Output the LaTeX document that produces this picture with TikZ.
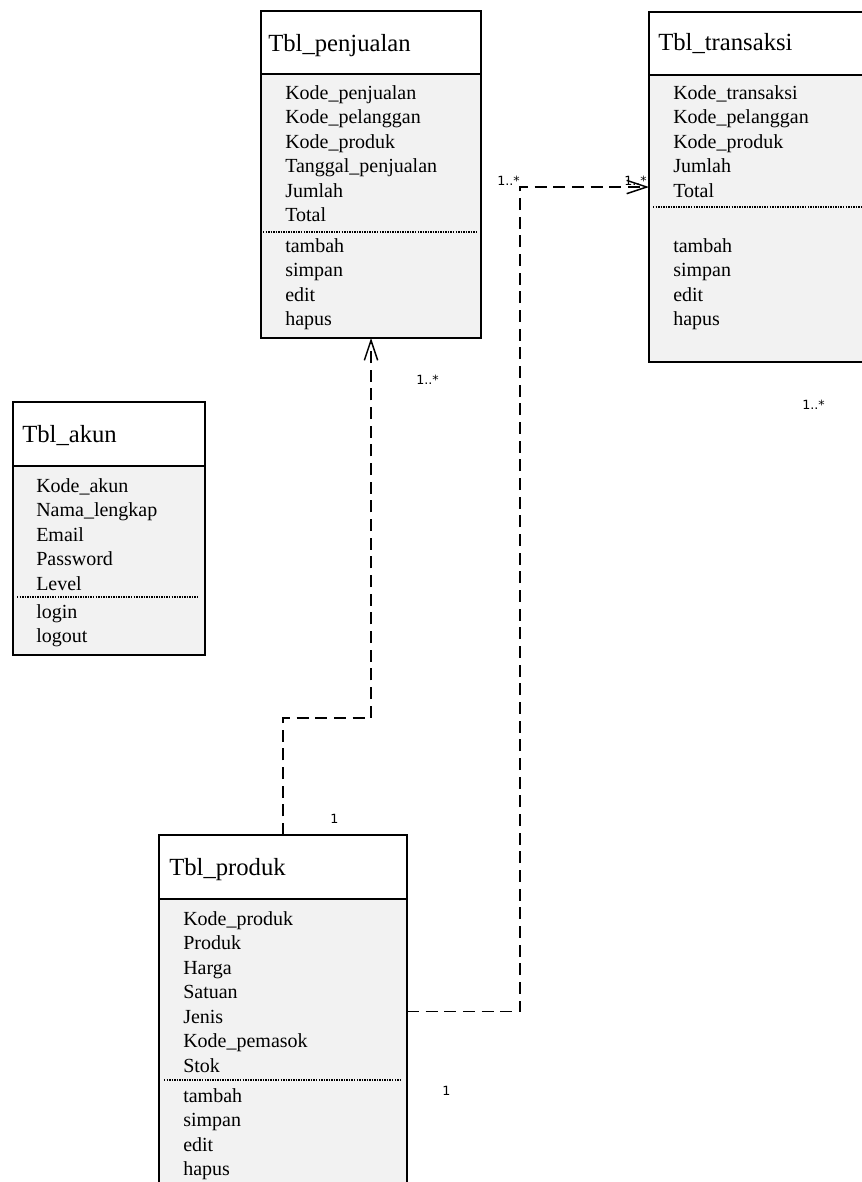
\documentclass[tikz,border=0pt]{standalone}
\usepackage{fontspec}
\setmainfont{Liberation Serif}
\newfontfamily\multfont{DejaVu Sans}
\usetikzlibrary{arrows.meta}
\definecolor{bodyfill}{RGB}{242,242,242}

\tikzset{
  classbox/.style={rectangle, draw=black, line width=1.2pt, fill=bodyfill, inner sep=0pt, outer sep=0pt},
  headbox/.style={draw=black, line width=1.2pt, fill=white},
  sepline/.style={line width=0.9pt, dash pattern=on 1.1pt off 0.8pt},
  classtitle/.style={anchor=base west, inner sep=0pt, font=\fontsize{18.5}{20}\selectfont},
  member/.style={anchor=base west, inner sep=0pt, font=\fontsize{15}{17}\selectfont},
  mult/.style={anchor=base west, inner sep=0pt, font=\multfont\fontsize{9.5}{10}\selectfont},
  depline/.style={line width=1.1pt, dash pattern=on 9pt off 5pt,
    -{Straight Barb[length=15pt,width=10pt,line width=1.1pt]}},
}

\begin{document}
\begin{tikzpicture}[x=0.75pt,y=-0.75pt]
\useasboundingbox (0,0) rectangle (862,1182);
\clip (0,0) rectangle (862,1182);

% ---------- Tbl_penjualan ----------
\node[classbox, minimum width=165pt, minimum height=245.25pt] (pen) at (371,174.5) {};
\draw[headbox] (261,11) rectangle (481,74);
\node[classtitle] (pen-t) at (268,51) {Tbl\_penjualan};
\foreach \t [count=\i] in {Kode\_penjualan,Kode\_pelanggan,Kode\_produk,Tanggal\_penjualan,Jumlah,Total}
  \node[member, name=pen-a\i] at (285,{99+24.5*(\i-1)}) {\t};
\draw[sepline] (263,232) -- (477,232);
\foreach \t [count=\i] in {tambah,simpan,edit,hapus}
  \node[member, name=pen-m\i] at (285,{252+24.5*(\i-1)}) {\t};

% ---------- Tbl_transaksi ----------
\node[classbox, minimum width=173.25pt, minimum height=262.5pt] (trans) at (764.5,187) {};
\draw[headbox] (649,12) rectangle (880,75);
\node[classtitle] (trans-t) at (658,50) {Tbl\_transaksi};
\foreach \t [count=\i] in {Kode\_transaksi,Kode\_pelanggan,Kode\_produk,Jumlah,Total}
  \node[member, name=trans-a\i] at (673,{99+24.5*(\i-1)}) {\t};
\draw[sepline] (653,207) -- (870,207);
\foreach \t [count=\i] in {tambah,simpan,edit,hapus}
  \node[member, name=trans-m\i] at (673,{252+24.5*(\i-1)}) {\t};

% ---------- Tbl_akun ----------
\node[classbox, minimum width=144pt, minimum height=189.75pt] (akun) at (109,528.5) {};
\draw[headbox] (13,402) rectangle (205,466);
\node[classtitle] (akun-t) at (22,442) {Tbl\_akun};
\foreach \t [count=\i] in {Kode\_akun,Nama\_lengkap,Email,Password,Level}
  \node[member, name=akun-a\i] at (36,{492+24.5*(\i-1)}) {\t};
\draw[sepline] (17,597) -- (199,597);
\foreach \t [count=\i] in {login,logout}
  \node[member, name=akun-m\i] at (36,{618+24.5*(\i-1)}) {\t};

% ---------- Tbl_produk ----------
\node[classbox, minimum width=186pt, minimum height=264.75pt] (produk) at (283,1011.5) {};
\draw[headbox] (159,835) rectangle (407,899);
\node[classtitle] (produk-t) at (169,875) {Tbl\_produk};
\foreach \t [count=\i] in {Kode\_produk,Produk,Harga,Satuan,Jenis,Kode\_pemasok,Stok}
  \node[member, name=produk-a\i] at (183,{925+24.5*(\i-1)}) {\t};
\draw[sepline] (164,1080) -- (402,1080);
\foreach \t [count=\i] in {tambah,simpan,edit,hapus}
  \node[member, name=produk-m\i] at (183,{1102+24.5*(\i-1)}) {\t};

% ---------- dependencies ----------
\coordinate (jA) at (283,718);
\draw[depline] (produk.north) -- (jA) -| (pen.south);
\coordinate (jB) at (520,187);
\draw[depline] (produk.east) -| (jB) -- (trans.west);

% ---------- multiplicities ----------
\node[mult] (m1) at (330,823) {1};
\node[mult] (m2) at (416,384) {1..*};
\node[mult] (m3) at (497,185) {1..*};
\node[mult] (m4) at (624,185) {1..*};
\node[mult] (m5) at (802,409) {1..*};
\node[mult] (m6) at (442,1095) {1};
\end{tikzpicture}
\end{document}
